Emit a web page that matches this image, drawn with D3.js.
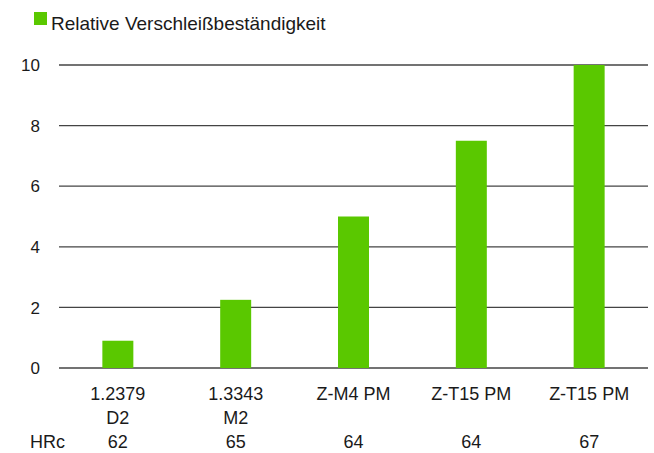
<!DOCTYPE html>
<html>
<head>
<meta charset="utf-8">
<script src="https://cdn.jsdelivr.net/npm/d3@7"></script>
<style>
  body { margin: 0; background: #fff; }
  text { font-family: "Liberation Sans", Arial, sans-serif; fill: #1a1a1a; }
</style>
</head>
<body>
<svg id="chart" width="654" height="453"></svg>
<script>
// data
const categories = ['1.2379|D2', '1.3343|M2', 'Z-M4 PM', 'Z-T15 PM', 'Z-T15 PM ']
const values = [0.9, 2.25, 5.0, 7.5, 10.0]
const hardness = ['62', '65', '64', '64', '67']
const yTicks = [0, 2, 4, 6, 8, 10]
const seriesName = 'Relative Verschleißbeständigkeit'

const green = '#5ac800'
const svg = d3.select('#chart')

var x = d3
  .scaleBand()
  .domain(categories)
  .range([59, 648])
  .paddingInner(0.737)
  .paddingOuter(0.368)

var y = d3.scaleLinear().domain([0, 10]).range([368, 65])

// grid lines
svg
  .append('g')
  .selectAll('line')
  .data(yTicks)
  .enter()
  .append('line')
  .attr('x1', 59)
  .attr('x2', 648)
  .attr('y1', d => y(d))
  .attr('y2', d => y(d))
  .attr('stroke', '#444')
  .attr('stroke-width', 1.3)

// y tick labels
svg
  .append('g')
  .selectAll('text')
  .data(yTicks)
  .enter()
  .append('text')
  .attr('x', 40)
  .attr('y', d => y(d))
  .attr('dy', '0.36em')
  .attr('text-anchor', 'end')
  .style('font-size', '17px')
  .text(d => d)

// bars
svg
  .append('g')
  .selectAll('rect')
  .data(values)
  .enter()
  .append('rect')
  .attr('x', (d, i) => x(categories[i]))
  .attr('width', x.bandwidth())
  .attr('y', d => y(d))
  .attr('height', d => y(0) - y(d))
  .attr('fill', green)

// category labels (two lines)
var cat = svg
  .append('g')
  .selectAll('text')
  .data(categories)
  .enter()
  .append('text')
  .attr('text-anchor', 'middle')
  .style('font-size', '18px')

cat
  .selectAll('tspan')
  .data(d => d.trim().split('|').map(s => ({ s: s, c: d })))
  .enter()
  .append('tspan')
  .attr('x', d => x(d.c) + x.bandwidth() / 2)
  .attr('y', (d, i) => 400 + i * 24)
  .text(d => d.s)

// hardness row
svg
  .append('text')
  .attr('x', 30)
  .attr('y', 448)
  .style('font-size', '18px')
  .text('HRc')

svg
  .append('g')
  .selectAll('text')
  .data(hardness)
  .enter()
  .append('text')
  .attr('x', (d, i) => x(categories[i]) + x.bandwidth() / 2)
  .attr('y', 448)
  .attr('text-anchor', 'middle')
  .style('font-size', '18px')
  .text(d => d)

// legend
svg
  .append('rect')
  .attr('x', 34)
  .attr('y', 12)
  .attr('width', 13)
  .attr('height', 13)
  .attr('fill', green)

svg
  .append('text')
  .attr('x', 51)
  .attr('y', 30)
  .style('font-size', '19px')
  .text(seriesName)
</script>
</body>
</html>
